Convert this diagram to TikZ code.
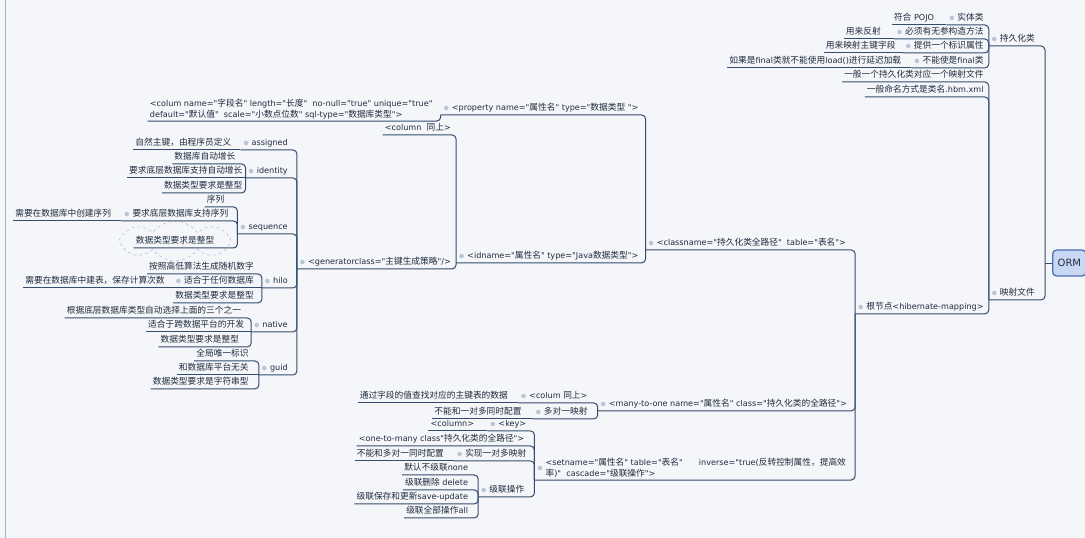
\documentclass[tikz,border=0pt]{standalone}
\usepackage{fontspec}
\newfontfamily\cjk[Scale=1.075]{Noto Sans CJK SC}
\newfontfamily\latin{DejaVu Sans}
\usetikzlibrary{shapes.symbols}
\definecolor{MMBack}{HTML}{F4F6FA}
\definecolor{MMLine}{HTML}{344C6E}
\definecolor{MMText}{HTML}{1F2B3D}
\definecolor{MMDot}{HTML}{BAC5D8}
\definecolor{MMEdge}{HTML}{A5B0C2}
\definecolor{MMRootFill}{HTML}{C8D7F3}
\definecolor{MMRootDraw}{HTML}{4E6FB3}
\XeTeXinterchartokenstate=1
\newXeTeXintercharclass\mmCJK
\newcount\mmCode
\mmCode="3000 \loop \XeTeXcharclass\mmCode=\mmCJK \advance\mmCode by 1 \ifnum\mmCode<"3040 \repeat
\mmCode="4E00 \loop \XeTeXcharclass\mmCode=\mmCJK \advance\mmCode by 1 \ifnum\mmCode<"A000 \repeat
\mmCode="FF00 \loop \XeTeXcharclass\mmCode=\mmCJK \advance\mmCode by 1 \ifnum\mmCode<"FFF0 \repeat
\XeTeXinterchartoks 0 \mmCJK = {\cjk}
\XeTeXinterchartoks 4095 \mmCJK = {\cjk}
\XeTeXinterchartoks \mmCJK 0 = {\latin}
\XeTeXinterchartoks \mmCJK 4095 = {\latin}
\newcommand{\mmLink}[2]{\draw[conn] (#1.south west) -- (#1.south -| #2.west) -- (#2.south west);}
\newcommand{\mmRow}[2]{\draw[conn] (#1.south west) -- (#2.south west);}

\begin{document}
\begin{tikzpicture}[
    x=1pt, y=-1pt,
    tx/.style={font=\latin\fontsize{8.1}{10.5}\selectfont, text=MMText, anchor=east,
        inner xsep=2pt, inner ysep=2.5pt, text height=6.5pt, text depth=2pt},
    par/.style={tx, execute at begin node={\hspace*{9pt}}},
    txm/.style={font=\latin\fontsize{8.1}{11}\selectfont, text=MMText, anchor=south east,
        inner xsep=2pt, inner ysep=2pt, align=left},
    conn/.style={draw=MMLine, line width=1pt, rounded corners=4pt},
    rootbox/.style={draw=MMRootDraw, fill=MMRootFill, line width=1.3pt, rounded corners=4pt,
        anchor=west, inner xsep=5pt, minimum height=26pt, font=\latin\fontsize{10}{12}\selectfont, text=MMText},
    cloudMark/.style={cloud, cloud puffs=8, cloud puff arc=110, cloud ignores aspect, draw=MMEdge, dashed,
        minimum width=112pt, minimum height=40pt}
 ]
\fill[MMBack] (0,0) rectangle (1085,538);
\useasboundingbox (0,0) rectangle (1085,538);
\draw[MMEdge, line width=1pt] (5,0) -- (5,538);

\node[rootbox] (orm) at (1052,263) {ORM};
\coordinate (ormJoin) at (1045,263);

\node[par, xshift=-8pt] (persist) at (ormJoin |- 0,39) {持久化类};
\node[par, xshift=-8pt] (mapFile) at (ormJoin |- 0,293) {映射文件};

\node[par, xshift=-3pt] (entity) at (persist.west |- 0,18) {实体类};
\node[tx, xshift=-10pt] (pojo) at (entity.west |- 0,18) {符合 POJO};
\node[par, xshift=-3pt] (ctor) at (persist.west |- 0,32) {必须有无参构造方法};
\node[tx, xshift=-11pt] (reflect) at (ctor.west |- 0,32) {用来反射};
\node[par, xshift=-3pt] (ident) at (persist.west |- 0,46) {提供一个标识属性};
\node[tx, xshift=-5pt] (pkField) at (ident.west |- 0,46) {用来映射主键字段};
\node[par, xshift=-3pt] (notFinal) at (persist.west |- 0,61) {不能使是final类};
\node[tx, xshift=-8pt] (lazyLoad) at (notFinal.west |- 0,61) {如果是final类就不能使用load()进行延迟加载};

\node[tx, xshift=-3pt] (oneFile) at (mapFile.west |- 0,75) {一般一个持久化类对应一个映射文件};
\node[tx, xshift=-3pt] (naming) at (mapFile.west |- 0,90) {一般命名方式是类名.hbm.xml};
\node[par, xshift=-3pt] (rootNode) at (mapFile.west |- 0,307) {根节点<hibernate-mapping>};

\node[par, xshift=-7pt] (cls) at (rootNode.west |- 0,243) {<classname="持久化类全路径"\ \ table="表名">};
\node[par, xshift=-6pt] (manyOne) at (rootNode.west |- 0,404) {<many-to-one name="属性名" class="持久化类的全路径">};
\node[txm, xshift=-7pt] (setNode) at (rootNode.west |- 0,480) {\hspace*{9pt}<setname="属性名" table="表名"\hspace{16pt}inverse="true(反转控制属性，提高效\\\hspace*{9pt}率)"\ \ cascade="级联操作">};

\node[par, xshift=-5pt] (prop) at (cls.west |- 0,108) {<property name="属性名" type="数据类型 ">};
\node[par, xshift=-5pt] (idNode) at (cls.west |- 0,256) {<idname="属性名" type="Java数据类型">};
\node[txm, xshift=-6pt] (columAttr) at (prop.west |- 0,121) {<colum name="字段名" length="长度"\ \ no-null="true" unique="true"\\default="默认值"\ \ scale="小数点位数" sql-type="数据库类型">};
\node[tx, xshift=-3pt] (colSame) at (idNode.west |- 0,128) {<column\ \ 同上>};
\node[par, xshift=-3pt] (gen) at (idNode.west |- 0,262) {<generatorclass="主键生成策略"/>};

\node[par, xshift=-7pt] (assigned) at (gen.west |- 0,143) {assigned};
\node[tx, xshift=-7pt] (natKey) at (assigned.west |- 0,143) {自然主键，由程序员定义};
\node[par, xshift=-7pt] (identity) at (gen.west |- 0,171) {identity};
\node[tx, xshift=-8pt] (dbAuto) at (identity.west |- 0,157) {数据库自动增长};
\node[tx, xshift=-1pt] (needAuto) at (identity.west |- 0,171) {要求底层数据库支持自动增长};
\node[tx, xshift=-1pt] (intIdent) at (identity.west |- 0,186) {数据类型要求是整型};
\node[par, xshift=-7pt] (sequence) at (gen.west |- 0,227) {sequence};
\node[tx, xshift=-11pt] (seqName) at (sequence.west |- 0,200) {序列};
\node[par, xshift=-7pt] (needSeq) at (sequence.west |- 0,214) {要求底层数据库支持序列};
\node[tx, xshift=-8pt] (createSeq) at (needSeq.west |- 0,214) {需要在数据库中创建序列};
\node[tx, xshift=-21pt] (intSeq) at (sequence.west |- 0,241) {数据类型要求是整型};
\node[cloudMark] (seqCloud) at (intSeq) {};
\node[par, xshift=-7pt] (hilo) at (gen.west |- 0,281) {hilo};
\node[tx, xshift=-6pt] (hiloAlg) at (hilo.west |- 0,267) {按照高低算法生成随机数字};
\node[par, xshift=-6pt] (anyDb) at (hilo.west |- 0,281) {适合于任何数据库};
\node[tx, xshift=-6pt] (hiloTable) at (anyDb.west |- 0,281) {需要在数据库中建表，保存计算次数};
\node[tx, xshift=-6pt] (intHilo) at (hilo.west |- 0,296) {数据类型要求是整型};
\node[par, xshift=-7pt] (native) at (gen.west |- 0,325) {native};
\node[tx, xshift=-8pt] (autoPick) at (native.west |- 0,311) {根据底层数据库类型自动选择上面的三个之一};
\node[tx, xshift=-5pt] (crossDb) at (native.west |- 0,325) {适合于跨数据平台的开发};
\node[tx, xshift=-10pt] (intNative) at (native.west |- 0,340) {数据类型要求是整型};
\node[par, xshift=-7pt] (guid) at (gen.west |- 0,368) {guid};
\node[tx, xshift=-8pt] (uniqueId) at (guid.west |- 0,354) {全局唯一标识};
\node[tx, xshift=-8pt] (noPlatform) at (guid.west |- 0,368) {和数据库平台无关};
\node[tx, xshift=-8pt] (strGuid) at (guid.west |- 0,382) {数据类型要求是字符串型};

\node[par, xshift=-8pt] (colSame2) at (manyOne.west |- 0,396) {<colum 同上>};
\node[tx, xshift=-8pt] (fkLookup) at (colSame2.west |- 0,396) {通过字段的值查找对应的主键表的数据};
\node[par, xshift=-8pt] (manyMap) at (manyOne.west |- 0,412) {多对一映射};
\node[tx, xshift=-9pt] (noOneMany) at (manyMap.west |- 0,412) {不能和一对多同时配置};

\node[par, xshift=-6pt] (keyNode) at (setNode.west |- 0,424) {<key>};
\node[tx, xshift=-11pt] (colKey) at (keyNode.west |- 0,424) {<column>};
\node[tx, xshift=-8pt] (oneMany) at (setNode.west |- 0,439) {<one-to-many class"持久化类的全路径">};
\node[par, xshift=-6pt] (oneManyMap) at (setNode.west |- 0,454) {实现一对多映射};
\node[tx, xshift=-8pt] (noManyOne) at (oneManyMap.west |- 0,454) {不能和多对一同时配置};
\node[par, xshift=-8pt] (cascade) at (setNode.west |- 0,490) {级联操作};
\node[tx, xshift=-8pt] (casNone) at (cascade.west |- 0,468) {默认不级联none};
\node[tx, xshift=-8pt] (casDel) at (cascade.west |- 0,483) {级联删除 delete};
\node[tx, xshift=-8pt] (casSave) at (cascade.west |- 0,497) {级联保存和更新save-update};
\node[tx, xshift=-8pt] (casAll) at (cascade.west |- 0,511) {级联全部操作all};

\draw[conn] (persist.south west) -- (persist.south -| ormJoin) -- (mapFile.south -| ormJoin) -- (mapFile.south west);
\draw[conn] (ormJoin) -- (orm.west);

\foreach \c/\p in {entity/persist,ctor/persist,ident/persist,notFinal/persist,
    oneFile/mapFile,naming/mapFile,rootNode/mapFile,
    cls/rootNode,manyOne/rootNode,setNode/rootNode,
    prop/cls,idNode/cls,columAttr/prop,colSame/idNode,gen/idNode,
    assigned/gen,identity/gen,sequence/gen,hilo/gen,native/gen,guid/gen,
    dbAuto/identity,intIdent/identity,seqName/sequence,needSeq/sequence,intSeq/sequence,
    hiloAlg/hilo,intHilo/hilo,autoPick/native,intNative/native,uniqueId/guid,strGuid/guid,
    colSame2/manyOne,manyMap/manyOne,
    keyNode/setNode,oneMany/setNode,oneManyMap/setNode,cascade/setNode,
    casNone/cascade,casDel/cascade,casSave/cascade,casAll/cascade} {\mmLink{\c}{\p}}

\foreach \c/\p in {pojo/entity,reflect/ctor,pkField/ident,lazyLoad/notFinal,natKey/assigned,
    needAuto/identity,createSeq/needSeq,anyDb/hilo,hiloTable/anyDb,crossDb/native,
    noPlatform/guid,fkLookup/colSame2,noOneMany/manyMap,colKey/keyNode,noManyOne/oneManyMap} {\mmRow{\c}{\p}}

\foreach \n in {persist,mapFile,entity,ctor,ident,notFinal,rootNode,cls,manyOne,setNode,
    prop,idNode,gen,assigned,identity,sequence,needSeq,hilo,anyDb,native,guid,
    colSame2,manyMap,keyNode,oneManyMap,cascade}
    \fill[MMDot] ([xshift=5.5pt]\n.west) circle (2.3pt);

\end{tikzpicture}
\end{document}
